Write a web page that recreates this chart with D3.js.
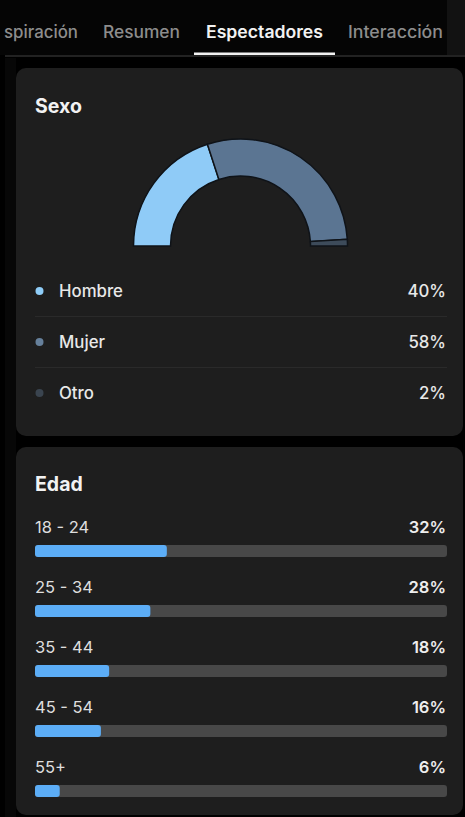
<!DOCTYPE html>
<html>
<head>
<meta charset="utf-8">
<script src="https://cdn.jsdelivr.net/npm/d3@7"></script>
<style>
  html, body { margin: 0; padding: 0; background: #000; }
  svg { display: block; }
  text { font-family: Inter, "Noto Sans", sans-serif; }
</style>
</head>
<body>
<svg id="chart" width="465" height="817"></svg>
<script>
// ---- data ----
const tabLabels = ["spiración", "Resumen", "Espectadores", "Interacción"];
const activeTab = "Espectadores";
const sexTitle = "Sexo";
const sexCategories = ["Hombre", "Mujer", "Otro"];
const sexValues = [40, 58, 2];
const ageTitle = "Edad";
const ageCategories = ["18 - 24", "25 - 34", "35 - 44", "45 - 54", "55+"];
const ageValues = [32, 28, 18, 16, 6];

// ---- layout ----
const W = 465, H = 817;
const svg = d3.select("#chart");
const tabX = [4, 103, 206, 348];
const tabW = [74, 77, 117, 95];
const sexColors = d3.scaleOrdinal().domain(sexCategories).range(["#8fcbf7", "#5b7592", "#3d4b5a"]);
const dotColors = d3.scaleOrdinal().domain(sexCategories).range(["#8fcdf8", "#66809b", "#3a444f"]);

svg.append("rect").attr("width", W).attr("height", H).attr("fill", "#000");
svg.append("rect").attr("x", 5).attr("y", 58).attr("width", 11).attr("height", H - 58).attr("fill", "#070707");

// header
svg.append("rect").attr("x", 0).attr("y", 0).attr("width", W).attr("height", 55).attr("fill", "#050505");
svg.append("rect").attr("x", 447).attr("y", 0).attr("width", 18).attr("height", 55).attr("fill", "#121212");
svg.append("rect").attr("x", 5).attr("y", 55).attr("width", W).attr("height", 2).attr("fill", "#222222");
const tabsG = svg.append("g");
tabLabels.forEach((t, i) => {
  const active = t === activeTab;
  tabsG.append("text")
    .attr("x", tabX[i]).attr("y", 38)
    .attr("font-size", 17)
    .attr("font-weight", active ? 600 : 500)
    .attr("fill", active ? "#f2f2f2" : "#8d8d8d")
    .attr("textLength", tabW[i]).attr("lengthAdjust", "spacingAndGlyphs")
    .text(t);
});
svg.append("rect").attr("x", 194).attr("y", 52.5).attr("width", 141).attr("height", 2.5).attr("fill", "#f2f2f2");

// cards
svg.append("rect").attr("x", 16).attr("y", 68).attr("width", 447).attr("height", 368).attr("rx", 10).attr("fill", "#1e1e1e");
svg.append("rect").attr("x", 16).attr("y", 447).attr("width", 447).attr("height", 368).attr("rx", 10).attr("fill", "#1e1e1e");

// ---- Sexo card ----
svg.append("text").attr("x", 35).attr("y", 113).attr("font-size", 19.5).attr("font-weight", 700)
  .attr("fill", "#f2f2f2").text(sexTitle);

const pie = d3.pie().sort(null).value(d => d.v)
  .startAngle(-Math.PI / 2).endAngle(Math.PI / 2);
const arc = d3.arc().innerRadius(70).outerRadius(107);
const sexData = sexCategories.map((c, i) => ({ c, v: sexValues[i] }));
svg.append("g").attr("transform", "translate(240.5,246)")
  .selectAll("path").data(pie(sexData)).join("path")
  .attr("d", arc)
  .attr("fill", d => sexColors(d.data.c))
  .attr("stroke", "#0f1318").attr("stroke-width", 1.5);

const rowY = d3.scalePoint().domain(sexCategories).range([291, 393]);
const leg = svg.append("g");
sexCategories.forEach((c, i) => {
  const y = rowY(c);
  leg.append("circle").attr("cx", 39.5).attr("cy", y).attr("r", 4).attr("fill", dotColors(c));
  leg.append("text").attr("x", 59).attr("y", y + 6).attr("font-size", 16.8).attr("font-weight", 500)
    .attr("fill", "#e8e8e8").text(c);
  leg.append("text").attr("x", 446).attr("y", y + 6).attr("text-anchor", "end").attr("font-size", 16.8)
    .attr("font-weight", 500).attr("fill", "#e8e8e8").text(sexValues[i] + "%");
  if (i < sexCategories.length - 1) {
    leg.append("line").attr("x1", 35).attr("x2", 447).attr("y1", y + 25.5).attr("y2", y + 25.5)
      .attr("stroke", "#2a2a2a").attr("stroke-width", 1);
  }
});

// ---- Edad card ----
svg.append("text").attr("x", 35).attr("y", 491).attr("font-size", 19.5).attr("font-weight", 700)
  .attr("fill", "#f2f2f2").text(ageTitle);

const x = d3.scaleLinear().domain([0, 100]).range([35, 447]);
const ay = d3.scalePoint().domain(ageCategories).range([533, 773]);
const ag = svg.append("g");
ageCategories.forEach((c, i) => {
  const y = ay(c);
  ag.append("text").attr("x", 35).attr("y", y).attr("font-size", 16.5).attr("font-weight", 400)
    .attr("fill", "#dedede").text(c);
  ag.append("text").attr("x", 446).attr("y", y).attr("text-anchor", "end").attr("font-size", 16.5)
    .attr("font-weight", 600).attr("fill", "#eeeeee").text(ageValues[i] + "%");
  ag.append("rect").attr("x", x(0)).attr("y", y + 12).attr("width", x(100) - x(0)).attr("height", 12)
    .attr("rx", 3).attr("fill", "#484848");
  ag.append("rect").attr("x", x(0)).attr("y", y + 12).attr("width", x(ageValues[i]) - x(0)).attr("height", 12)
    .attr("rx", 3).attr("fill", "#5cadf6");
});
</script>
</body>
</html>
